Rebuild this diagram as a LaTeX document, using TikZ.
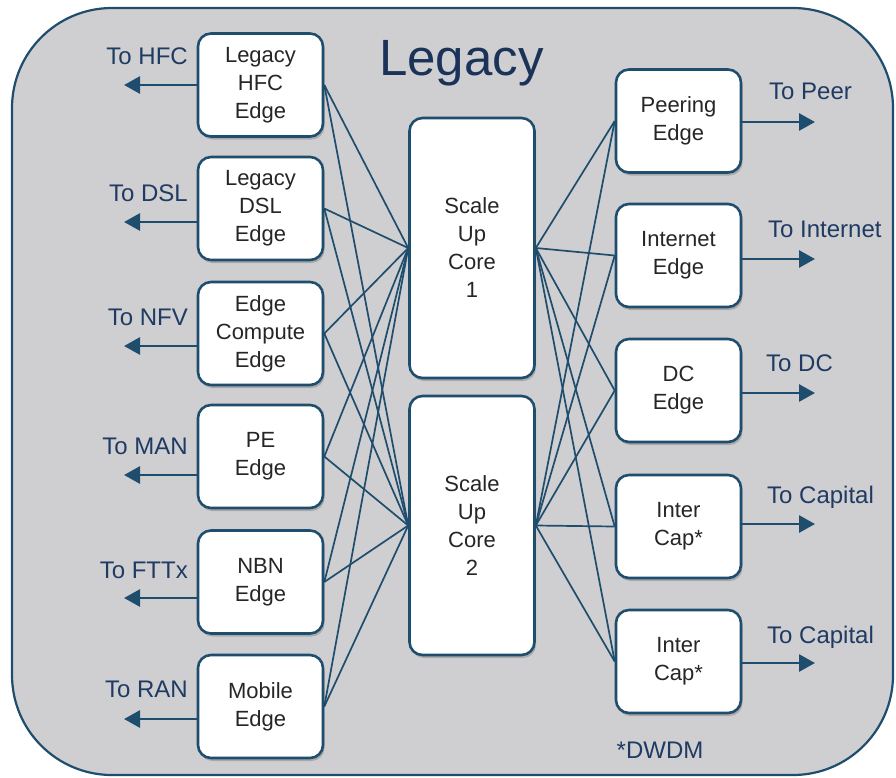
\documentclass[tikz,border=0pt]{standalone}
\usepackage{fontspec}
\setmainfont{Liberation Sans}
\usetikzlibrary{arrows.meta,shadows}
\definecolor{navy}{HTML}{1F4D6E}
\definecolor{panel}{HTML}{CFCFD1}
\definecolor{labelblue}{HTML}{1F3B63}
\definecolor{titleblue}{HTML}{1B3359}
\definecolor{boxtext}{HTML}{262626}
\pgfdeclarelayer{back}
\pgfdeclarelayer{mid}
\pgfsetlayers{back,mid,main}

\begin{document}
\begin{tikzpicture}[x=1pt,y=-1pt,
  box/.style={draw=navy, line width=2.6pt, fill=white, rounded corners=13pt,
    minimum width=125pt, minimum height=103pt, inner sep=0pt, align=center,
    text=boxtext, font=\fontsize{22}{28}\selectfont,
    execute at begin node={\vspace*{4pt}},
    drop shadow={shadow xshift=1.5pt, shadow yshift=-3pt, fill=black, opacity=0.18}},
  corebox/.style={box, minimum height=259pt},
  link/.style={draw=navy, line width=1.7pt},
  outarrow/.style={draw=navy, line width=2.8pt, -{Triangle[length=16pt,width=17pt]}},
  lab/.style={text=labelblue, font=\fontsize{24}{28}\selectfont, inner sep=0pt}
]
\useasboundingbox (0,0) rectangle (896,777);

% outer panel
\begin{pgfonlayer}{back}
  \path[fill=panel, draw=navy, line width=2.2pt, rounded corners=100pt] (12,8) rectangle (893,775);
\end{pgfonlayer}

\node[text=titleblue, font=\fontsize{51}{56}\selectfont, anchor=base, inner sep=0pt] (title) at (461.5,75) {Legacy};

% access edges (left column)
\node[box] (hfc)  at (260.5,85)    {Legacy\\HFC\\Edge};
\node[box] (dsl)  at (260.5,208.5) {Legacy\\DSL\\Edge};
\node[box] (nfv)  at (260.5,333.5) {Edge\\Compute\\Edge};
\node[box] (pe)   at (260.5,456.5) {PE\\Edge};
\node[box] (nbn)  at (260.5,582)   {NBN\\Edge};
\node[box] (mob)  at (260.5,706.5) {Mobile\\Edge};

% core routers
\node[corebox, minimum height=260pt] (core1) at (472,248)   {Scale\\Up\\Core\\1};
\node[corebox] (core2) at (472,525.5) {Scale\\Up\\Core\\2};

% upstream edges (right column)
\node[box] (peer) at (678.5,121)   {Peering\\Edge};
\node[box] (inet) at (678.5,255.5) {Internet\\Edge};
\node[box] (dc)   at (678.5,390.5) {DC\\Edge};
\node[box] (cap1) at (678.5,526.5) {Inter\\Cap*};
\node[box] (cap2) at (678.5,661.5) {Inter\\Cap*};

% full mesh between edges and cores
\begin{pgfonlayer}{mid}
  \foreach \a in {hfc,dsl,nfv,pe,nbn,mob}
    \foreach \c in {core1,core2}
      \draw[link] (\a.east) -- (\c.west);
  \foreach \c in {core1,core2}
    \foreach \b in {peer,inet,dc,cap1,cap2}
      \draw[link] (\c.east) -- (\b.west);
\end{pgfonlayer}

% outbound arrows, left
\coordinate (tHFC) at (124,85);
\coordinate (tDSL) at (124,222);
\coordinate (tNFV) at (124,346);
\coordinate (tMAN) at (124,475);
\coordinate (tFTTx) at (124,598);
\coordinate (tRAN) at (124,719);
\draw[outarrow] (hfc.west |- tHFC) -- (tHFC);
\draw[outarrow] (dsl.west |- tDSL) -- (tDSL);
\draw[outarrow] (nfv.west |- tNFV) -- (tNFV);
\draw[outarrow] (pe.west |- tMAN) -- (tMAN);
\draw[outarrow] (nbn.west |- tFTTx) -- (tFTTx);
\draw[outarrow] (mob.west |- tRAN) -- (tRAN);

\node[lab, anchor=base east] (lHFC)  at (188,64)  {To HFC};
\node[lab, anchor=base east] (lDSL)  at (188,201) {To DSL};
\node[lab, anchor=base east] (lNFV)  at (188,325) {To NFV};
\node[lab, anchor=base east] (lMAN)  at (188,454) {To MAN};
\node[lab, anchor=base east] (lFTTx) at (188,578) {To FTTx};
\node[lab, anchor=base east] (lRAN)  at (188,697) {To RAN};

% outbound arrows, right
\coordinate (tPeer) at (815,122);
\coordinate (tInet) at (815,259);
\coordinate (tDC) at (815,393);
\coordinate (tCap1) at (815,524);
\coordinate (tCap2) at (815,663);
\draw[outarrow] (peer.east |- tPeer) -- (tPeer);
\draw[outarrow] (inet.east |- tInet) -- (tInet);
\draw[outarrow] (dc.east |- tDC) -- (tDC);
\draw[outarrow] (cap1.east |- tCap1) -- (tCap1);
\draw[outarrow] (cap2.east |- tCap2) -- (tCap2);

\node[lab, anchor=base west] (lPeer) at (769,99)  {To Peer};
\node[lab, anchor=base west] (lInet) at (768,237) {To Internet};
\node[lab, anchor=base west] (lDC)   at (766,371) {To DC};
\node[lab, anchor=base west] (lCap1) at (767,503) {To Capital};
\node[lab, anchor=base west] (lCap2) at (767,643) {To Capital};

\node[lab, anchor=base] (dwdm) at (660,758) {*DWDM};
\end{tikzpicture}
\end{document}
